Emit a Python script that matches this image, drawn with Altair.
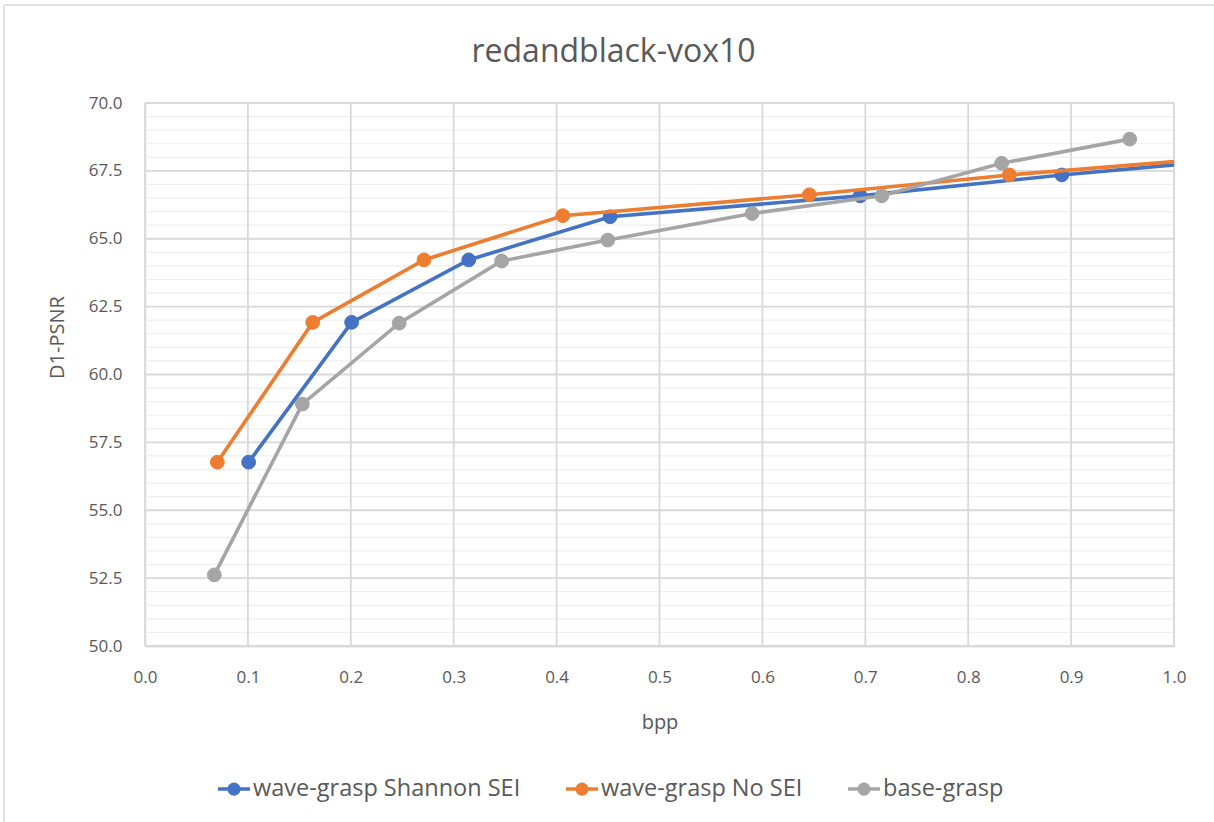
import altair as alt
import pandas as pd

FONT = "Open Sans"
TEXT_COLOR = "#595959"
GRID_MAJOR = "#D9D9D9"
GRID_MINOR = "#EFEFEF"

# Series
series_names = ["wave-grasp Shannon SEI", "wave-grasp No SEI", "base-grasp"]
series_colors = ["#4472C4", "#ED7D31", "#A5A5A5"]

shannon_bpp = [0.1007, 0.2008, 0.3146, 0.452, 0.695, 0.891, 1.35]
shannon_psnr = [56.77, 61.92, 64.22, 65.81, 66.58, 67.35, 68.91]

nosei_bpp = [0.0703, 0.163, 0.2711, 0.406, 0.6456, 0.840, 1.30]
nosei_psnr = [56.77, 61.92, 64.22, 65.85, 66.62, 67.35, 68.76]

base_bpp = [0.0674, 0.1529, 0.247, 0.3466, 0.4497, 0.590, 0.716, 0.8325, 0.957]
base_psnr = [52.62, 58.91, 61.89, 64.18, 64.95, 65.93, 66.58, 67.78, 68.67]

# Axis ticks and gridlines
x_ticks = [0.0, 0.1, 0.2, 0.3, 0.4, 0.5, 0.6, 0.7, 0.8, 0.9, 1.0]
y_major = [50.0, 52.5, 55.0, 57.5, 60.0, 62.5, 65.0, 67.5, 70.0]
y_minor = [50 + 0.5 * i for i in range(41) if i % 5 != 0]

rows = []
for name, xs, ys in [
    (series_names[0], shannon_bpp, shannon_psnr),
    (series_names[1], nosei_bpp, nosei_psnr),
    (series_names[2], base_bpp, base_psnr),
]:
    rows += [{"series": name, "bpp": x, "psnr": y} for x, y in zip(xs, ys)]
df = pd.DataFrame(rows)

xscale = alt.Scale(domain=[0, 1], nice=False, zero=False)
yscale = alt.Scale(domain=[50, 70], nice=False, zero=False)
cscale = alt.Scale(domain=series_names, range=series_colors)

xaxis = alt.Axis(
    values=x_ticks, format=".1f", title="bpp", grid=False, ticks=False, tickSize=0,
    domainColor="#BFBFBF", domainWidth=1.5,
    labelFont=FONT, labelFontSize=17, labelColor=TEXT_COLOR, labelPadding=23,
    labelFlush=False, labelOverlap=False,
    titleFont=FONT, titleFontSize=20, titleColor=TEXT_COLOR, titleFontWeight="normal",
    titleY=76, titleBaseline="middle",
)
yaxis = alt.Axis(
    values=y_major, format=".1f", title="D1-PSNR", grid=False, ticks=False, tickSize=0,
    domainColor=GRID_MAJOR, domainWidth=1.5,
    labelFont=FONT, labelFontSize=17, labelColor=TEXT_COLOR, labelPadding=23,
    labelFlush=False, labelOverlap=False,
    titleFont=FONT, titleFontSize=20, titleColor=TEXT_COLOR, titleFontWeight="normal",
    titleX=-88, titleY=234, titleBaseline="middle",
)

legend = alt.Legend(
    title=None, orient="none", legendX=71, legendY=668, direction="horizontal",
    symbolType="M-1,0H1M-0.3,0A0.3,0.3,0,1,1,0.3,0A0.3,0.3,0,1,1,-0.3,0Z",
    symbolSize=1024, symbolStrokeWidth=3.5, symbolOpacity=1,
    labelFont=FONT, labelFontSize=23.5, labelColor=TEXT_COLOR, labelOffset=1,
    labelLimit=0, columnPadding=38, padding=0,
)

# Gridlines
minor_grid = alt.Chart(pd.DataFrame({"v": y_minor})).mark_rule(
    color=GRID_MINOR, strokeWidth=1.2
).encode(y=alt.Y("v:Q", scale=yscale, axis=yaxis))

major_grid = alt.Chart(pd.DataFrame({"v": y_major})).mark_rule(
    color=GRID_MAJOR, strokeWidth=1.8
).encode(y=alt.Y("v:Q", scale=yscale, axis=yaxis))

vert_grid = alt.Chart(pd.DataFrame({"v": x_ticks})).mark_rule(
    color=GRID_MAJOR, strokeWidth=1.8
).encode(x=alt.X("v:Q", scale=xscale, axis=xaxis))

# Outer chart frame (top and left edges)
frame_df = pd.DataFrame({"k": [0]})
frame_top = alt.Chart(frame_df).mark_rule(color=GRID_MAJOR, strokeWidth=1.5).encode(
    x=alt.value(-141), x2=alt.value(1069), y=alt.value(-98)
)
frame_left = alt.Chart(frame_df).mark_rule(color=GRID_MAJOR, strokeWidth=1.5).encode(
    x=alt.value(-141), y=alt.value(-98), y2=alt.value(719)
)

layers = [frame_top, frame_left, minor_grid, major_grid, vert_grid]

# One line + marker layer per series, drawn in series order
for name in series_names:
    base = alt.Chart(df).transform_filter(alt.datum.series == name)
    line = base.mark_line(strokeWidth=3.6, clip=True).encode(
        x=alt.X("bpp:Q", scale=xscale, axis=xaxis),
        y=alt.Y("psnr:Q", scale=yscale, axis=yaxis),
        stroke=alt.Stroke("series:N", scale=cscale, legend=legend),
        order="bpp:Q",
    )
    pts = base.mark_point(size=190, strokeWidth=1, opacity=1, fillOpacity=1, clip=True).encode(
        x=alt.X("bpp:Q", scale=xscale, axis=xaxis),
        y=alt.Y("psnr:Q", scale=yscale, axis=yaxis),
        stroke=alt.Stroke("series:N", scale=cscale, legend=legend),
        fill=alt.Fill("series:N", scale=cscale, legend=legend),
    )
    layers += [line, pts]

chart = alt.layer(*layers).properties(
    width=1029,
    height=543,
    padding={"left": 145, "top": 103, "right": 40, "bottom": 176},
    autosize=alt.AutoSizeParams(type="none"),
    title=alt.Title(
        "redandblack-vox10", font=FONT, fontSize=32, fontWeight="normal",
        color=TEXT_COLOR, anchor="middle", frame="group", dx=-46, dy=65, offset=0,
    ),
).configure_view(stroke=None).configure(background="white")

chart.save("out.html", embed_options={"renderer": "svg", "actions": False})
